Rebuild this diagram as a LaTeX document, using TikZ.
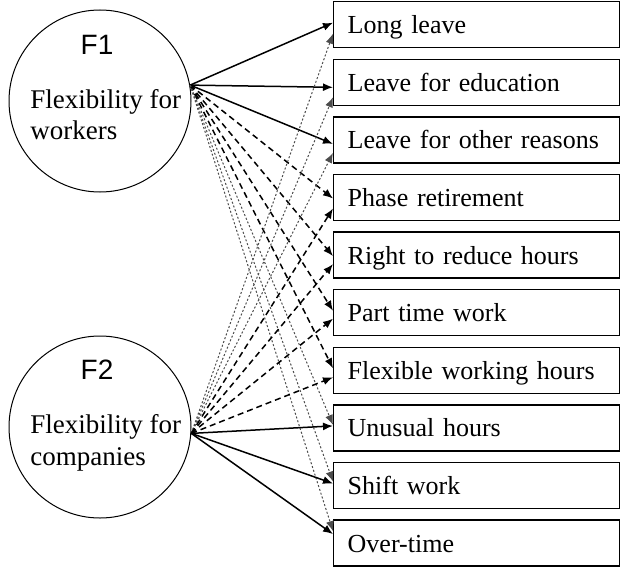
\documentclass[tikz,border=0pt]{standalone}
\usepackage{fontspec}
\setmainfont{Liberation Serif}
\newfontfamily\factorsans{Liberation Sans}
\usetikzlibrary{arrows.meta,calc}
\tikzset{
    factor/.style={circle, draw, line width=0.5pt, minimum size=91pt, inner sep=0pt},
    fname/.style={font=\factorsans\fontsize{14}{16}\selectfont},
    ftext/.style={anchor=base west, align=left, inner sep=0pt,
        font=\fontsize{13.5}{16}\selectfont},
    item/.style={rectangle, draw, line width=0.7pt, anchor=north west,
        minimum width=143pt, minimum height=23pt, text width=129pt,
        inner xsep=7pt, align=left, text height=9pt, text depth=0pt,
        font=\fontsize{13}{14}\selectfont},
    hard/.style={line width=0.75pt, -{Latex[length=5pt,width=4pt]}},
    soft/.style={hard, dash pattern=on 3pt off 2pt},
    weak/.style={line width=0.5pt, gray!60!black, dash pattern=on 1pt off 1pt,
        -{Latex[length=5pt,width=4pt]}}
}
\begin{document}
\begin{tikzpicture}[x=0.5pt, y=-0.5pt]
	\useasboundingbox (0,0) rectangle (620,567);
	\node (f1) [factor] at (100,101) {};
	\node (f2) [factor] at (100,427) {};
	\node (f1name) [fname] at (97,45) {F1};
	\node (f2name) [fname] at (97,370) {F2};
	\node (f1text) [ftext] at (30,140) {Flexibility for\\workers};
	\node (f2text) [ftext] at (30,465) {Flexibility for\\companies};

	\node (long) [item] at (333,1) {Long leave};
	\node (educ) [item] at (333,58.6) {Leave for education};
	\node (other) [item] at (333,116.2) {Leave for other reasons};
	\node (phase) [item] at (333,173.8) {Phase retirement};
	\node (reduce) [item] at (333,231.4) {Right to reduce hours};
	\node (part) [item] at (333,289) {Part time work};
	\node (flex) [item] at (333,346.6) {Flexible working hours};
	\node (unusual) [item] at (333,404.2) {Unusual hours};
	\node (shift) [item] at (333,461.8) {Shift work};
	\node (over) [item] at (333,519.4) {Over-time};

	\draw[hard] (f1.10) -- ($(long.west)+(0,-2)$);
	\draw[hard] (f1.10) -- ($(educ.west)+(0,5)$);
	\draw[hard] (f1.10) -- ($(other.west)+(0,4)$);
	\draw[soft] (f1.10) -- ($(phase.west)+(0,1)$);
	\draw[soft] (f1.10) -- ($(reduce.west)+(0,1)$);
	\draw[soft] (f1.10) -- ($(part.west)+(0,-2)$);
	\draw[soft] (f1.10) -- ($(flex.west)+(0,-2)$);
	\draw[weak] (f1.10) -- ($(unusual.west)+(0,-3)$);
	\draw[weak] (f1.10) -- ($(shift.west)+(0,-4)$);
	\draw[weak] (f1.10) -- ($(over.west)+(0,-12)$);

	\draw[weak] (f2.-4) -- ($(long.west)+(0,9)$);
	\draw[weak] (f2.-4) -- ($(educ.west)+(0,15)$);
	\draw[weak] (f2.-4) -- ($(other.west)+(0,13)$);
	\draw[soft] (f2.-4) -- ($(phase.west)+(0,11)$);
	\draw[soft] (f2.-4) -- ($(reduce.west)+(0,9)$);
	\draw[soft] (f2.-4) -- ($(part.west)+(0,6)$);
	\draw[soft] (f2.-4) -- ($(flex.west)+(0,7)$);
	\draw[hard] (f2.-4) -- ($(unusual.west)+(0,-2)$);
	\draw[hard] (f2.-4) -- ($(shift.west)+(0,-2)$);
	\draw[hard] (f2.-4) -- ($(over.west)+(0,-9)$);
\end{tikzpicture}
\end{document}
